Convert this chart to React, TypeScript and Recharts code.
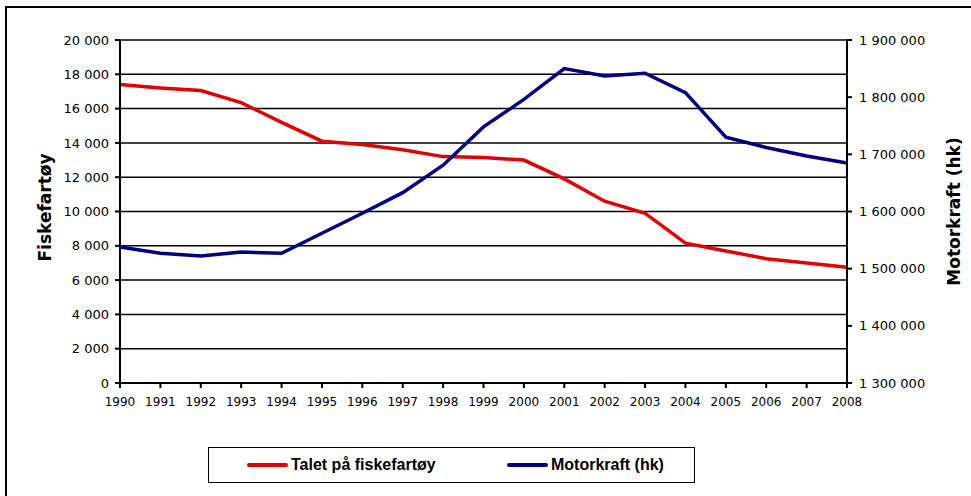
import { LineChart, Line, XAxis, YAxis, CartesianGrid } from 'recharts'

const years = [
  '1990', '1991', '1992', '1993', '1994', '1995', '1996', '1997', '1998', '1999',
  '2000', '2001', '2002', '2003', '2004', '2005', '2006', '2007', '2008',
]

// Talet på fiskefartøy (venstre akse)
const vessels = [
  17400, 17200, 17050, 16350, 15200, 14100, 13900, 13600, 13200, 13150,
  13000, 11900, 10600, 9900, 8150, 7700, 7250, 7000, 6750,
]

// Motorkraft i hk (høgre akse)
const horsepower = [
  1538000, 1527000, 1522000, 1529000, 1527000, 1562000, 1597000, 1633000, 1681000, 1748000,
  1796000, 1850000, 1837000, 1842000, 1808000, 1730000, 1712000, 1697000, 1685000,
]

const leftTicks = [0, 2000, 4000, 6000, 8000, 10000, 12000, 14000, 16000, 18000, 20000]
const rightTicks = [1300000, 1400000, 1500000, 1600000, 1700000, 1800000, 1900000]

const seriesNames = ['Talet på fiskefartøy', 'Motorkraft (hk)']
const seriesColors = ['#E00000', '#000080']

const data = years.map((y, i) => ({ year: y, vessels: vessels[i], hp: horsepower[i] }))

const FONT = '"Liberation Sans", Arial, sans-serif'
const WIDE = '"DejaVu Sans", sans-serif'

// mellomrom som tusenskiljeteikn: 1 900 000
const fmt = (v: number) => String(v).replace(/\B(?=(\d{3})+(?!\d))/g, ' ')

export default function App() {
  return (
    <div
      style={{
        position: 'absolute',
        left: 0,
        top: 0,
        width: 971,
        height: 496,
        overflow: 'hidden',
        background: '#fff',
        fontFamily: FONT,
      }}
    >
      {/* ytre ramme, går ut over kanten til høgre og nede */}
      <div
        style={{
          position: 'absolute',
          left: 5,
          top: 6,
          width: 1000,
          height: 520,
          border: '2px solid #000',
        }}
      />
      <div style={{ position: 'absolute', left: 0, top: 0 }}>
        <LineChart
          width={971}
          height={496}
          data={data}
          margin={{ top: 40, right: 44, bottom: 93, left: 40 }}
        >
          <CartesianGrid yAxisId="left" vertical={false} stroke="#000" strokeWidth={1.5} />
          <XAxis
            dataKey="year"
            interval={0}
            tickSize={5}
            tickMargin={9}
            height={20}
            stroke="#000"
            strokeWidth={2}
            tick={{ fontSize: 12, fill: '#000', fontFamily: WIDE }}
          />
          <YAxis
            yAxisId="left"
            domain={[0, 20000]}
            ticks={leftTicks}
            width={80}
            tickSize={5}
            tickMargin={6}
            stroke="#000"
            strokeWidth={2}
            tickFormatter={fmt}
            tick={{ fontSize: 13, fill: '#000', fontFamily: WIDE }}
            label={{
              value: 'Fiskefartøy',
              angle: -90,
              position: 'insideLeft',
              dx: 0,
              dy: -4,
              style: { fontSize: 17, fontWeight: 'bold', fill: '#000', textAnchor: 'middle', fontFamily: WIDE },
            }}
          />
          <YAxis
            yAxisId="right"
            orientation="right"
            domain={[1300000, 1900000]}
            ticks={rightTicks}
            width={80}
            tickSize={5}
            tickMargin={7}
            stroke="#000"
            strokeWidth={2}
            tickFormatter={fmt}
            tick={{ fontSize: 13, fill: '#000', fontFamily: WIDE }}
            label={{
              value: 'Motorkraft (hk)',
              angle: -90,
              position: 'insideRight',
              dx: 32,
              style: { fontSize: 17, fontWeight: 'bold', fill: '#000', textAnchor: 'middle', fontFamily: WIDE },
            }}
          />
          <Line
            yAxisId="left"
            dataKey="vessels"
            name={seriesNames[0]}
            stroke={seriesColors[0]}
            strokeWidth={3.5}
            dot={false}
            type="linear"
            isAnimationActive={false}
          />
          <Line
            yAxisId="right"
            dataKey="hp"
            name={seriesNames[1]}
            stroke={seriesColors[1]}
            strokeWidth={3.5}
            dot={false}
            type="linear"
            isAnimationActive={false}
          />
        </LineChart>
      </div>

      {/* forklaring */}
      <div
        style={{
          position: 'absolute',
          left: 208,
          top: 447,
          width: 487,
          height: 36,
          border: '1px solid #000',
          boxSizing: 'border-box',
        }}
      >
        {seriesNames.map((name, i) => (
          <div
            key={name}
            style={{
              position: 'absolute',
              left: i === 0 ? 38 : 298,
              top: 8,
              display: 'flex',
              alignItems: 'center',
              fontSize: 16,
              fontWeight: 'bold',
              color: '#000',
              whiteSpace: 'nowrap',
            }}
          >
            <span
              style={{
                display: 'inline-block',
                width: 41,
                height: 4,
                borderRadius: 2,
                background: seriesColors[i],
                marginRight: 3,
              }}
            />
            {name}
          </div>
        ))}
      </div>
    </div>
  )
}
